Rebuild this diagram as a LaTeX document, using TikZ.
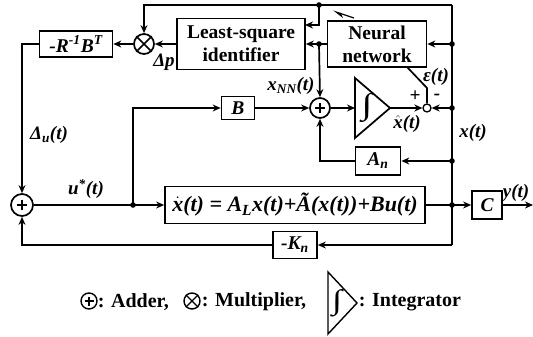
\documentclass[tikz,border=0pt]{standalone}
\usepackage{fontspec}
\setmainfont{Liberation Serif}
\usetikzlibrary{arrows.meta,calc}
\newcommand\mi[1]{{\bfseries\itshape #1}}
\begin{document}
\begin{tikzpicture}[x=1pt,y=-1pt,
  line width=1.7pt,
  arr/.style={-{Stealth[length=8pt,width=7pt]}},
  blk/.style={draw,rectangle,inner sep=0pt,font=\fontsize{19.5}{23}\selectfont\bfseries,align=center},
  sumc/.style={draw,circle,inner sep=0pt,minimum size=#1},
  lbl/.style={font=\fontsize{19}{21}\selectfont\bfseries\itshape,inner sep=0pt},
  leg/.style={font=\fontsize{20}{22}\selectfont\bfseries,inner sep=0pt,anchor=west},
]
\path[use as bounding box] (0,0) rectangle (533,337);
% blocks
\node[blk,minimum width=73pt,minimum height=26pt] (R) at (76,44) {\mi{-R\textsuperscript{-1}B\textsuperscript{T}}};
\node[sumc=20pt] (M) at (144,44) {};
\draw (M.north west) -- (M.south east) (M.north east) -- (M.south west);
\node[blk,minimum width=128pt,minimum height=51pt] (LS) at (241,44) {Least-square\\identifier};
\node[blk,minimum width=99pt,minimum height=46pt] (NN) at (377,44) {Neural\\network};
\node[blk,minimum width=33pt,minimum height=23pt] (B) at (238,108) {\mi{B}};
\node[sumc=20pt] (A2) at (320,108) {};
\draw ([yshift=5pt]A2.center) -- ([yshift=-5pt]A2.center) ([xshift=-5pt]A2.center) -- ([xshift=5pt]A2.center);
% integrator
\coordinate (Iin) at (355,108);
\coordinate (Iout) at (390,108);
\draw (355,78) -- (Iout) -- (355,138) -- cycle;
\node[font=\fontsize{30}{30}\selectfont\bfseries,inner sep=0pt,xscale=1.3] (I) at (367,108) {∫};
\node[sumc=8pt,line width=1.3pt] (E) at (427,108) {};
\node[blk,minimum width=45pt,minimum height=28pt] (An) at (378,161) {\mi{A\textsubscript{n}}};
\node[blk,minimum width=260pt,minimum height=37pt,font=\fontsize{22}{24}\selectfont\bfseries] (P) at (295,205)
  {\mi{$\dot{\mbox{\mi{x}}}$(t) = A\textsubscript{L}x(t)+\~A(x(t))+Bu(t)}};
\node[blk,minimum width=30pt,minimum height=28pt] (C) at (487,205) {\mi{C}};
\node[blk,minimum width=44pt,minimum height=27pt] (K) at (295,245) {\mi{-K\textsubscript{n}}};
\node[sumc=22pt] (A1) at (22,205) {};
\draw ([yshift=5pt]A1.center) -- ([yshift=-5pt]A1.center) ([xshift=-5pt]A1.center) -- ([xshift=5pt]A1.center);
% coordinates
\coordinate (TR) at (452,5);
\coordinate (BR) at (452,245);
\coordinate (TD) at (319,5);
\coordinate (LSin) at (305,25);
\coordinate (XD) at (319,44);
\coordinate (RD1) at (452,44);
\coordinate (RD2) at (452,108);
\coordinate (RD3) at (452,161);
\coordinate (RD4) at (452,205);
\coordinate (UD) at (133,205);
\coordinate (Yend) at (533,205);
\coordinate (Ebend) at (427,88);
\coordinate (Etop) at (407,67);
% connectors
\draw (TR) -- (BR);
\draw[arr] (TR) -| (M.north);
\draw[arr] (BR) -- (K.east);
\draw[arr] (TD) |- (LSin);
\draw[arr] (NN.west) -- (LS.east);
\draw[arr] (XD) -- (A2.north);
\draw[arr] (RD1) -- (NN.east);
\draw[arr] (RD2) -- (E.east);
\draw[arr] (Iout) -- (E.west);
\draw[arr] (A2.east) -- (Iin);
\draw[arr] (B.east) -- (A2.west);
\draw[arr] (UD) |- (B.west);
\draw[arr] (RD3) -- (An.east);
\draw[arr] (An.west) -| (A2.south);
\draw (P.east) -- (RD4);
\draw[arr] (RD4) -- (C.west);
\draw[arr] (C.east) -- (Yend);
\draw[arr] (K.west) -| (A1.south);
\draw[arr] (A1.east) -- (P.west);
\draw[arr] (R.west) -| (A1.north);
\draw[arr] (M.west) -- (R.east);
\draw[arr] (LS.west) -- (M.east);
\draw (E.north) -- (Ebend) -- (Etop);
\draw[line width=1.2pt,{Stealth[length=10pt,width=7pt,left]}-] (333,11) -- (354,18);
\foreach \p in {TD,XD,RD1,RD2,RD3,RD4,UD} \fill (\p) circle (2.8pt);
% labels
\node[lbl] (lDp) at (164,62) {Δ\mi{p}};
\node[lbl] (lxnn) at (291,86) {\mi{x\textsubscript{NN}(t)}};
\node[lbl] (ldu) at (49,135) {\mi{Δ\textsubscript{u}(t)}};
\node[lbl] (lu) at (86,189) {\mi{u\textsuperscript{*}(t)}};
\node[lbl] (lx) at (473,133) {\mi{x(t)}};
\node[lbl] (ly) at (516,193) {\mi{y(t)}};
\node[lbl] (le) at (436,77) {\mi{ε(t)}};
\node[lbl] (lp) at (415,96) {+};
\node[lbl] (lm) at (437,97) {-};
\node[lbl] (lxh) at (407,124) {$\hat{\mbox{\mi{x}}}$\mi{(t)}};
% legend
\node[sumc=16pt,line width=1.4pt] (LA) at (89,301) {};
\draw[line width=1.4pt] ([yshift=4.5pt]LA.center) -- ([yshift=-4.5pt]LA.center) ([xshift=-4.5pt]LA.center) -- ([xshift=4.5pt]LA.center);
\node[leg] (tA) at (97,302) {: Adder,};
\node[sumc=16pt,line width=1.4pt] (LM) at (192,301) {};
\draw[line width=1.4pt] (LM.north west) -- (LM.south east) (LM.north east) -- (LM.south west);
\node[leg] (tM) at (201,302) {: Multiplier,};
\draw[line width=1.4pt] (328,272) -- (357,303) -- (328,334) -- cycle;
\node[font=\fontsize{28}{28}\selectfont\bfseries,inner sep=0pt,xscale=1.3] (LI) at (337,303) {∫};
\node[leg] (tI) at (358,302) {: Integrator};
\end{tikzpicture}
\end{document}
